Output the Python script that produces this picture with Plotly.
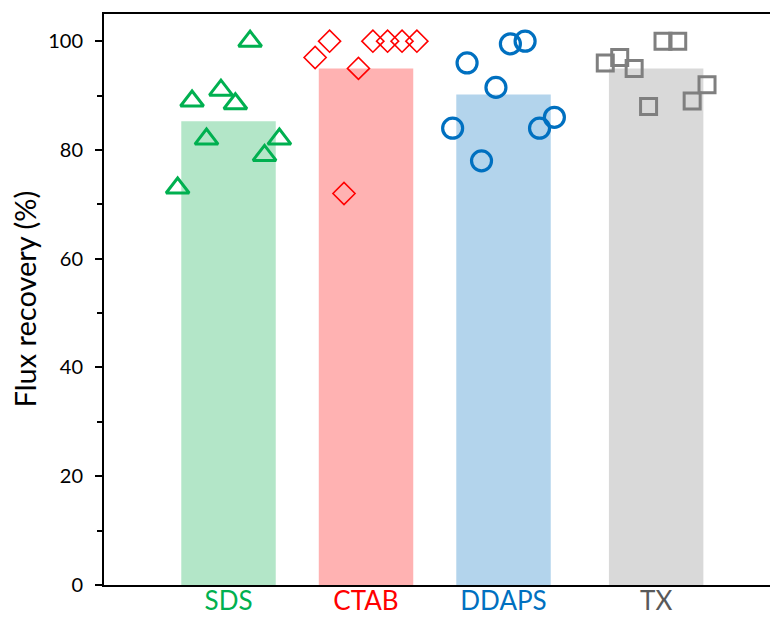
import plotly.graph_objects as go

# ---- data ----
categories = ["SDS", "CTAB", "DDAPS", "TX"]
cat_pos = [1.0, 2.0, 3.0, 4.11]
bar_means = [85.3, 95.0, 90.2, 95.0]
jitter = [-0.37, -0.265, -0.16, -0.055, 0.05, 0.157, 0.262, 0.37]
sds_vals = [73, 89, 82, 91, 88.5, 100, 79, 82]
ctab_vals = [97, 100, 72, 95, 100, 100, 100, 100]
ddaps_vals = [84, 96, 78, 91.5, 99.5, 100, 84, 86]
tx_vals = [96, 97, 95, 88, 100, 100, 89, 92]
y_ticks = [0, 20, 40, 60, 80, 100]
y_title = "Flux recovery (%)"

bar_colors = ["#B3E6C8", "#FFB2B2", "#B3D4EC", "#D9D9D9"]
label_colors = ["#00B050", "#FF0000", "#0070C0", "#595959"]
series = [
    (sds_vals, "triangle-up-open", 20, 3, "#00B050"),
    (ctab_vals, "diamond-open", 17, 1.6, "#FF0000"),
    (ddaps_vals, "circle-open", 20, 3.2, "#0070C0"),
    (tx_vals, "square-open", 16, 3, "#7F7F7F"),
]

fig = go.Figure()
fig.add_trace(go.Bar(x=cat_pos, y=bar_means, width=0.687,
                     marker=dict(color=bar_colors, line=dict(width=0)),
                     showlegend=False, hoverinfo="skip"))

for (vals, sym, size, lw, col), cx in zip(series, cat_pos):
    fig.add_trace(go.Scatter(
        x=[cx + j for j in jitter], y=vals, mode="markers",
        marker=dict(symbol=sym, size=size, color=col, line=dict(width=lw, color=col)),
        showlegend=False, cliponaxis=False))

ticktext = [f'<span style="color:{c}">{t}</span>' for t, c in zip(categories, label_colors)]

fig.add_annotation(text=y_title, xref="paper", yref="paper", x=0, y=0.5,
                   xanchor="center", yanchor="middle", xshift=-80, textangle=-90,
                   showarrow=False, font=dict(size=29, color="black"))

fig.update_layout(
    width=770, height=617,
    margin=dict(l=104, r=0, t=14, b=32),
    plot_bgcolor="white", paper_bgcolor="white",
    font=dict(family="Lato, Open Sans, sans-serif", color="black", size=20),
    xaxis=dict(range=[0.0945, 4.938], tickmode="array", tickvals=cat_pos, ticktext=ticktext,
               tickfont=dict(size=26), showline=True, linecolor="black", linewidth=2,
               mirror=True, ticks="", showgrid=False, zeroline=False, ticklabelstandoff=-8,
               automargin=False),
    yaxis=dict(range=[0, 105], tickmode="array", tickvals=y_ticks, showline=True,
               linecolor="black", linewidth=2, ticks="outside", ticklen=7, tickwidth=1.5,
               tickcolor="black", showgrid=False, zeroline=False,
               minor=dict(ticks="outside", dtick=10, ticklen=5, tickwidth=1.5, tickcolor="black"),
               tickfont=dict(size=20), ticklabelstandoff=8, automargin=False),
)

fig.write_html("out.html", config={"displayModeBar": False},
               post_script="document.body.style.margin='0';document.body.style.overflow='hidden';")
